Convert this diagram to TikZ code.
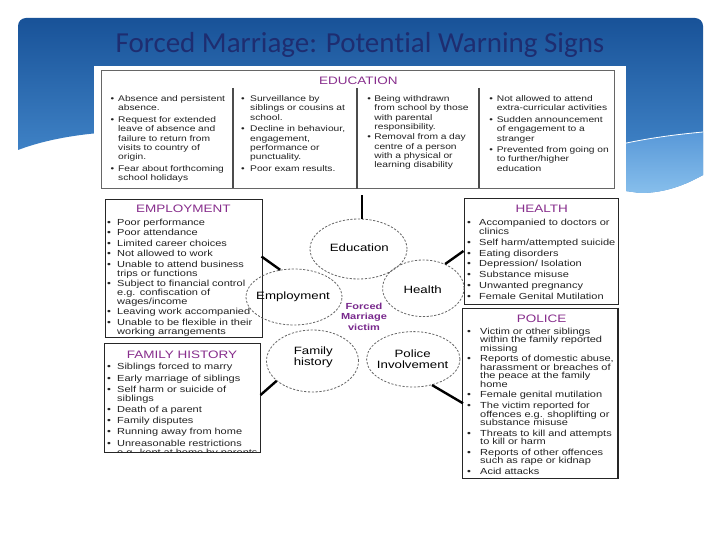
\documentclass[tikz,border=0pt]{standalone}
\usepackage{fontspec}
\setmainfont{Liberation Sans}
\newfontfamily\dg[FakeStretch=1.25]{Liberation Sans}
\newfontfamily\ttlfont[Ligatures={NoCommon,NoContextual}]{Carlito}
\usetikzlibrary{shapes.geometric}
\definecolor{bantop}{RGB}{24,82,152}
\definecolor{banbot}{RGB}{75,145,212}
\definecolor{wavetop}{RGB}{88,152,216}
\definecolor{wavebot}{RGB}{140,195,238}
\definecolor{titleblue}{RGB}{30,45,112}
\definecolor{ttlpurple}{RGB}{135,45,140}
\definecolor{vicpurple}{RGB}{120,40,140}
\definecolor{bodytxt}{RGB}{35,35,35}
\newlength\bulw
\newcommand\bfirst{\hangindent=\bulw\hangafter=1\noindent\makebox[\bulw][l]{\textbullet}}
\newcommand\bitm{\par\bfirst}
\newcommand\lnb{\unskip\nobreak\hfil\break}
\def\bannerpath{(18,150) [rounded corners=8pt] -- (18,18) -- (703,18) [sharp corners] -- (703,175) .. controls (685,185) and (665,193) .. (640,193) .. controls (400,160) and (150,100) .. (18,150) -- cycle}
\tikzset{
  lst/.style={anchor=north west, inner sep=0pt, text width=170pt, align=left, text=bodytxt},
  boxttl/.style={anchor=base, inner sep=0pt, text=ttlpurple, font=\dg\fontsize{10.8}{12}\selectfont},
  sidebox/.style={draw=black!85, line width=0.9pt, anchor=north west, inner sep=0pt},
  circ/.style={ellipse, draw=black!60, dash pattern=on 2.2pt off 1.6pt, line width=0.8pt, inner sep=0pt},
  circlbl/.style={inner sep=0pt, align=center, font=\dg\fontsize{10.6}{10.6}\selectfont, text=black},
  conn/.style={line width=2.4pt, black},
  divider/.style={line width=1.3pt, black!70}
}
\begin{document}
\begin{tikzpicture}[x=1pt,y=-1pt]
\useasboundingbox (0,0) rectangle (720,540);
\fill[white] (0,0) rectangle (720,540);
% banner
\shade[top color=bantop, bottom color=banbot] \bannerpath;
\begin{scope}
  \clip \bannerpath;
  \shade[top color=wavetop, bottom color=wavebot] (560,160) .. controls (620,142) and (660,136) .. (703,132) -- (712,132) -- (712,200) -- (560,200) -- cycle;
  \draw[white, line width=0.8pt] (560,160) .. controls (620,142) and (660,136) .. (703,132);
\end{scope}
\node[font=\ttlfont\fontsize{29}{30}\selectfont, text=titleblue, anchor=base, inner sep=0pt] (title) at (360,53) {Forced Marriage: Poten\kern0pt{}tial Warning Signs};
% diagram white area
\fill[white] (94,66) rectangle (626,192);
% education box
\node[draw=black!60, line width=1.3pt, anchor=north west, inner sep=0pt, minimum width=513pt, minimum height=118pt] (edbox) at (101,70) {};
\node[boxttl] (edttl) at (358.3,85) {EDUCATION};
\coordinate (d1t) at (233,88); \coordinate (d1b) at (233,188);
\coordinate (d2t) at (357,88); \coordinate (d2b) at (357,189);
\coordinate (d3t) at (479,88); \coordinate (d3b) at (479,188);
\draw[divider] (d1t) -- (d1b);
\draw[divider] (d2t) -- (d2b);
\draw[divider] (d3t) -- (d3b);
\node[lst, font=\dg\fontsize{8.2}{9.3}\selectfont] (ed1) at (110.5,95.5) {\setlength\parskip{2.4pt}\setlength\bulw{7.5pt}%
\bfirst Absence and persistent\lnb absence.
\bitm Request for extended\lnb leave of absence and\lnb failure to return from\lnb visits to country of\lnb origin.
\bitm Fear about forthcoming\lnb school holidays\par};
\node[lst, font=\dg\fontsize{8.2}{9.3}\selectfont] (ed2) at (241,95.5) {\setlength\parskip{2.3pt}\setlength\bulw{9pt}%
\bfirst Surveillance by\lnb siblings or cousins at\lnb school.
\bitm Decline in behaviour,\lnb engagement,\lnb performance or\lnb punctuality.
\bitm Poor exam results.\par};
\node[lst, font=\dg\fontsize{8.2}{9.3}\selectfont] (ed3) at (367.2,95.5) {\setlength\parskip{0.9pt}\setlength\bulw{7pt}%
\bfirst Being withdrawn\lnb from school by those\lnb with parental\lnb responsibility.
\bitm Removal from a day\lnb centre of a person\lnb with a physical or\lnb learning disability\par};
\node[lst, font=\dg\fontsize{8.2}{9.3}\selectfont] (ed4) at (489.2,95.5) {\setlength\parskip{2.2pt}\setlength\bulw{7.5pt}%
\bfirst Not allowed to attend\lnb extra-curricular activities
\bitm Sudden announcement\lnb of engagement to a\lnb stranger
\bitm Prevented from going on\lnb to further/higher\lnb education\par};
% employment box
\node[sidebox, minimum width=156.7pt, minimum height=138.3pt] (empbox) at (105,199) {};
\node[boxttl] (empttl) at (183.3,213) {EMPLOYMENT};
\node[lst, font=\dg\fontsize{8.8}{9}\selectfont] (emptxt) at (107,218.7) {\setlength\parskip{1.45pt}\setlength\bulw{10pt}%
\bfirst Poor performance
\bitm Poor attendance
\bitm Limited career choices
\bitm Not allowed to work
\bitm Unable to attend business\lnb trips or functions
\bitm Subject to financial control\lnb e.g. confiscation of\lnb wages/income
\bitm Leaving work accompanied
\bitm Unable to be flexible in their\lnb working arrangements\par};
% health box
\node[sidebox, minimum width=154.5pt, minimum height=105.5pt] (healbox) at (463.5,198) {};
\node[boxttl] (healttl) at (541.7,213) {HEALTH};
\node[lst, font=\dg\fontsize{8.8}{9}\selectfont] (healtxt) at (467,219.3) {\setlength\parskip{1.7pt}\setlength\bulw{12pt}%
\bfirst Accompanied to doctors or\lnb clinics
\bitm Self harm/attempted suicide
\bitm Eating disorders
\bitm Depression/ Isolation
\bitm Substance misuse
\bitm Unwanted pregnancy
\bitm Female Genital Mutilation\par};
% police box
\node[sidebox, minimum width=155pt, minimum height=170pt] (polbox) at (462,307.7) {};
\draw[line width=1.4pt, black!85] (polbox.north east) -- (polbox.south east) -- (polbox.south west);
\node[boxttl] (polttl) at (541.7,322.4) {POLICE};
\node[lst, font=\dg\fontsize{8.8}{8.5}\selectfont] (poltxt) at (467,327.7) {\setlength\parskip{2.1pt}\setlength\bulw{13pt}%
\bfirst Victim or other siblings\lnb within the family reported\lnb missing
\bitm Reports of domestic abuse,\lnb harassment or breaches of\lnb the peace at the family\lnb home
\bitm Female genital mutilation
\bitm The victim reported for\lnb offences e.g. shoplifting or\lnb substance misuse
\bitm Threats to kill and attempts\lnb to kill or harm
\bitm Reports of other offences\lnb such as rape or kidnap
\bitm Acid attacks\par};
% family history box
\begin{scope}
  \clip (104,342.7) rectangle (260,452);
  \node[lst, font=\dg\fontsize{8.8}{9}\selectfont] (famtxt) at (107,363.3) {\setlength\parskip{2.2pt}\setlength\bulw{10pt}%
  \bfirst Siblings forced to marry
  \bitm Early marriage of siblings
  \bitm Self harm or suicide of\lnb siblings
  \bitm Death of a parent
  \bitm Family disputes
  \bitm Running away from home
  \bitm Unreasonable restrictions\lnb e.g. kept at home by parents\par};
\end{scope}
\node[sidebox, minimum width=156pt, minimum height=109.3pt] (fambox) at (104,342.7) {};
\node[boxttl] (famttl) at (182,358) {FAMILY HISTORY};
% circles
\node[circ, minimum width=97pt, minimum height=60pt] (educ) at (358.5,249) {};
\node[circ, minimum width=81.4pt, minimum height=56.6pt] (healc) at (423.3,288.3) {};
\node[circ, minimum width=96pt, minimum height=56pt] (empc) at (294,297) {};
\node[circ, minimum width=92pt, minimum height=62pt] (famc) at (312.5,361) {};
\node[circ, minimum width=93.4pt, minimum height=55.4pt] (polc) at (413.3,359.3) {};
\node[circlbl] (educl) at (359.3,247.3) {Education};
\node[circlbl] (heall) at (422.7,289.3) {Health};
\node[circlbl] (empl) at (293,296.7) {Employment};
\node[circlbl] (faml) at (313.3,357.5) {Family\\history};
\node[circlbl] (poll) at (412.7,359.4) {Police\\Involvement};
\node[inner sep=0pt, align=center, font=\dg\bfseries\fontsize{8.8}{10.6}\selectfont, text=vicpurple] (victim) at (364,316.7) {Forced\\Marriage\\victim};
% connectors
\coordinate (ce1) at (361.7,195.5);
\coordinate (ce2) at (261.5,256.5);
\coordinate (ce3) at (463.5,251);
\coordinate (ce4) at (260.5,395);
\coordinate (ce5) at (463,403.3);
\draw[conn] (ce1) -- (ce1 |- educ.north);
\draw[conn] (ce2) -- (empc.117);
\draw[conn] (ce3) -- (healc.48);
\draw[conn] (ce4) -- (famc.209);
\draw[conn] (ce5) -- (polc.-54);
\end{tikzpicture}
\end{document}
